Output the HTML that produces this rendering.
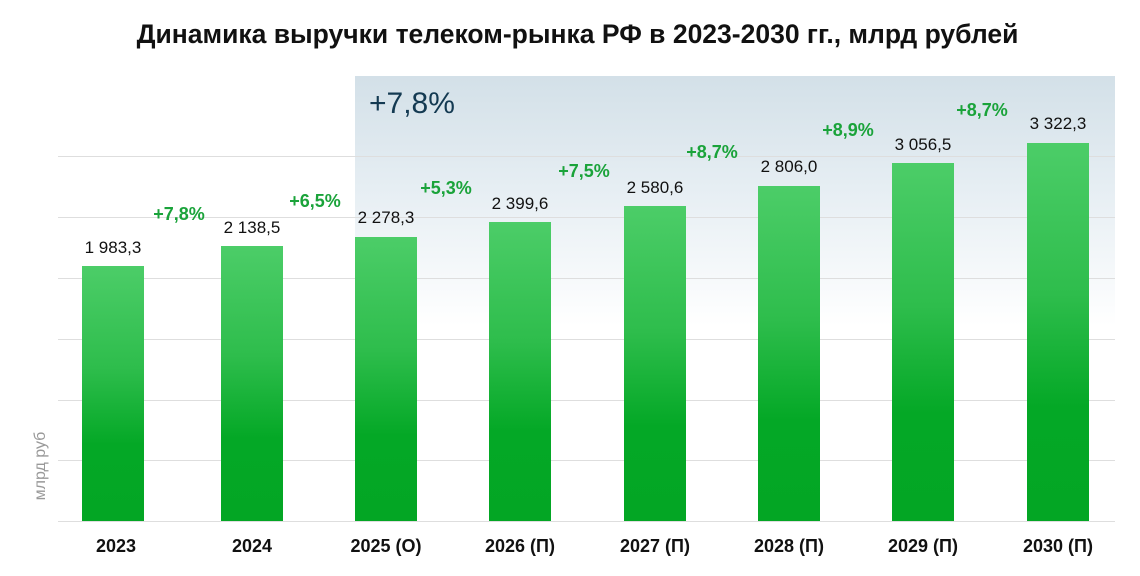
<!DOCTYPE html>
<html><head><meta charset="utf-8"><style>
body{margin:0;width:1140px;height:576px;background:#fff;position:relative;overflow:hidden;font-family:"Liberation Sans",sans-serif}
.a{position:absolute}
.g{position:absolute;left:58px;width:1057px;height:1px;background:#dedede}
.bar{position:absolute;width:62px;background:linear-gradient(#4ccd68 0%,#2ebd4c 40%,#04a826 70%,#03a624 100%)}
.v{position:absolute;width:140px;text-align:center;font-size:17px;color:#111}
.p{position:absolute;width:100px;text-align:center;font-size:18px;font-weight:bold;color:#1aa33a}
.x{position:absolute;width:140px;text-align:center;font-size:18px;font-weight:bold;color:#111;top:536px}
</style></head><body>
<div class="a" style="left:0;width:1155px;top:19px;text-align:center;font-size:26.5px;font-weight:bold;color:#111">Динамика выручки телеком-рынка РФ в 2023-2030 гг., млрд рублей</div>
<div class="a" style="left:355px;top:76px;width:760px;height:250px;background:linear-gradient(#d3e0e8,#e6eef3 45%,#ffffff)"></div>
<div class="a" style="left:369px;top:87px;font-size:30px;color:#143a52">+7,8%</div>
<div class="g" style="top:156px"></div><div class="g" style="top:217px"></div><div class="g" style="top:278px"></div><div class="g" style="top:339px"></div><div class="g" style="top:400px"></div><div class="g" style="top:460px"></div><div class="g" style="top:521px"></div>
<div class="a" style="left:41px;top:466px;transform:translate(-50%,-50%) rotate(-90deg);font-size:16px;color:#999;white-space:nowrap">млрд руб</div>
<div class="bar" style="left:82px;top:266px;height:255px"></div>
<div class="bar" style="left:221px;top:246px;height:275px"></div>
<div class="bar" style="left:355px;top:237px;height:284px"></div>
<div class="bar" style="left:489px;top:222px;height:299px"></div>
<div class="bar" style="left:624px;top:206px;height:315px"></div>
<div class="bar" style="left:758px;top:186px;height:335px"></div>
<div class="bar" style="left:892px;top:163px;height:358px"></div>
<div class="bar" style="left:1027px;top:143px;height:378px"></div>
<div class="v" style="left:43px;top:238px">1 983,3</div>
<div class="v" style="left:182px;top:218px">2 138,5</div>
<div class="v" style="left:316px;top:208px">2 278,3</div>
<div class="v" style="left:450px;top:194px">2 399,6</div>
<div class="v" style="left:585px;top:178px">2 580,6</div>
<div class="v" style="left:719px;top:157px">2 806,0</div>
<div class="v" style="left:853px;top:135px">3 056,5</div>
<div class="v" style="left:988px;top:114px">3 322,3</div>
<div class="p" style="left:129px;top:204px">+7,8%</div>
<div class="p" style="left:265px;top:191px">+6,5%</div>
<div class="p" style="left:396px;top:178px">+5,3%</div>
<div class="p" style="left:534px;top:161px">+7,5%</div>
<div class="p" style="left:662px;top:142px">+8,7%</div>
<div class="p" style="left:798px;top:120px">+8,9%</div>
<div class="p" style="left:932px;top:100px">+8,7%</div>
<div class="x" style="left:46px">2023</div>
<div class="x" style="left:182px">2024</div>
<div class="x" style="left:316px">2025 (О)</div>
<div class="x" style="left:450px">2026 (П)</div>
<div class="x" style="left:585px">2027 (П)</div>
<div class="x" style="left:719px">2028 (П)</div>
<div class="x" style="left:853px">2029 (П)</div>
<div class="x" style="left:988px">2030 (П)</div>
</body></html>
